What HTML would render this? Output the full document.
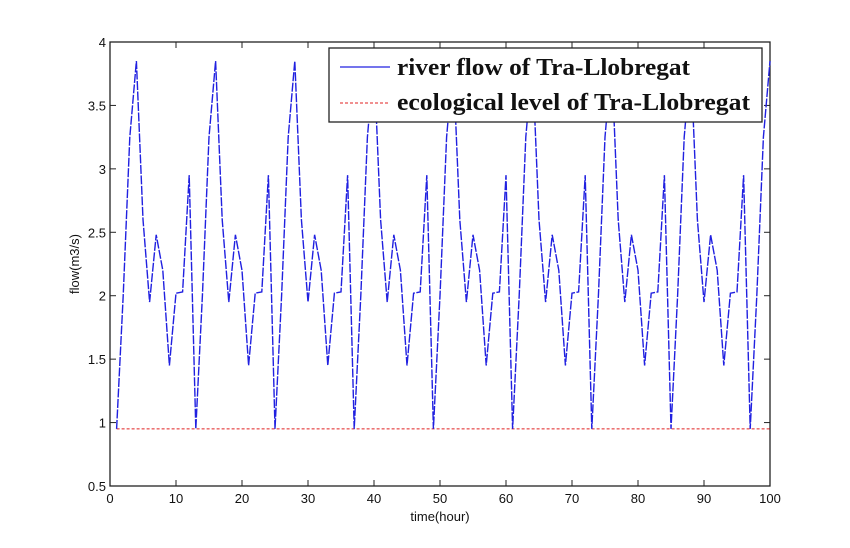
<!DOCTYPE html>
<html><head><meta charset="utf-8"><style>
body{margin:0;background:#fff}
svg{display:block;font-family:"Liberation Sans",Arial,sans-serif}
</style></head><body>
<svg id="chart" width="850" height="548"></svg>
<script>
const hours=[];for(let h=1;h<=100;h++)hours.push(h);
const periodValues=[0.95,2.0,3.25,3.85,2.6,1.95,2.48,2.2,1.45,2.02,2.03,2.95];
const flowValues=hours.map(h=>periodValues[(h-1)%12]);
const ecoLevel=0.95;
const xTicks=[0,10,20,30,40,50,60,70,80,90,100];
const yTicks=[0.5,1,1.5,2,2.5,3,3.5,4];
const L=110,R=770,T=42,B=486;
const xs=v=>L+(v-0)/100*(R-L);
const ys=v=>B-(v-0.5)/3.5*(B-T);
const svg=document.getElementById('chart');
const NS='http://www.w3.org/2000/svg';
function mk(t,a,p){const e=document.createElementNS(NS,t);for(const k in a)e.setAttribute(k,a[k]);(p||svg).appendChild(e);return e;}
const ax=mk('rect',{x:L,y:T,width:R-L,height:B-T,fill:'none',stroke:'#222','stroke-width':1.3});


xTicks.forEach(v=>{
 const x=xs(v);
 const t1=mk('line',{x1:x,x2:x,y1:B,y2:B-6,stroke:'#222'});
 
 
 mk('line',{x1:x,x2:x,y1:T,y2:T+6,stroke:'#222'});
 const tx=mk('text',{x:x,y:B+17,'text-anchor':'middle','font-size':13,fill:'#111'});
 tx.textContent=v;
 
 
});
yTicks.forEach(v=>{
 const y=ys(v);
 const t1=mk('line',{x1:L,x2:L+6,y1:y,y2:y,stroke:'#222'});
 
 
 mk('line',{x1:R,x2:R-6,y1:y,y2:y,stroke:'#222'});
 const tx=mk('text',{x:L-4,y:y+5,'text-anchor':'end','font-size':13,fill:'#111'});
 tx.textContent=v;
 
 
});
const eco=mk('line',{x1:xs(1),x2:xs(100),y1:ys(ecoLevel),y2:ys(ecoLevel),stroke:'#e02020','stroke-dasharray':'3,2','stroke-width':1});


const pts=hours.map((h,i)=>xs(h).toFixed(1)+','+ys(flowValues[i]).toFixed(1)).join(' ');
const fl=mk('polyline',{points:pts,fill:'none',stroke:'#2020e0','stroke-width':1.4,'stroke-dasharray':'9,1.5'});


const xl=mk('text',{x:440,y:521,'text-anchor':'middle','font-size':13,fill:'#111'});
xl.textContent='time(hour)';


const yl=mk('text',{x:0,y:0,'text-anchor':'middle','font-size':13,fill:'#111',transform:'translate(79,264) rotate(-90)'});
yl.textContent='flow(m3/s)';


const lg=mk('g',{});


mk('rect',{x:329,y:48,width:433,height:74,fill:'#fff',stroke:'#222','stroke-width':1.3},lg);
const e1=mk('line',{x1:340,x2:390,y1:67,y2:67,stroke:'#2020e0','stroke-width':1.2},lg);


const e2=mk('line',{x1:340,x2:390,y1:103,y2:103,stroke:'#e02020','stroke-dasharray':'3,2'},lg);


const lt1=mk('text',{x:397,y:75,'font-size':24,'font-weight':'bold','font-family':'Liberation Serif,serif',fill:'#111',textLength:293,lengthAdjust:'spacingAndGlyphs'},lg);
lt1.textContent='river flow of Tra-Llobregat';


const lt2=mk('text',{x:397,y:110,'font-size':24,'font-weight':'bold','font-family':'Liberation Serif,serif',fill:'#111',textLength:353,lengthAdjust:'spacingAndGlyphs'},lg);
lt2.textContent='ecological level of Tra-Llobregat';


</script>
</body></html>
